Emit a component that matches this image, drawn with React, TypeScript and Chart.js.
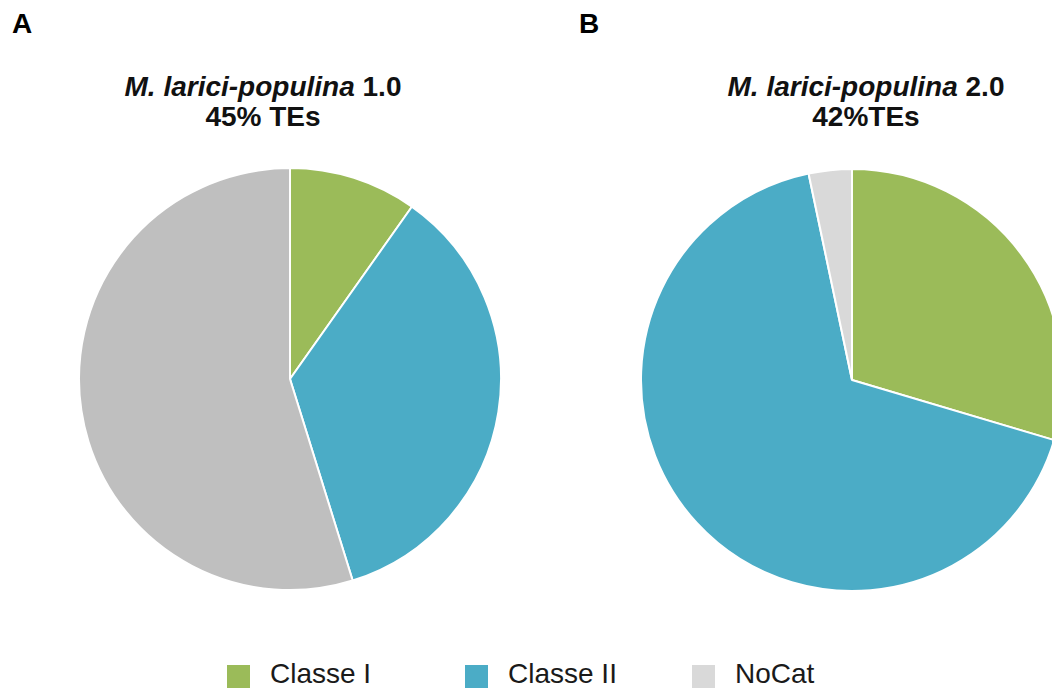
import React, { useEffect, useRef } from "react";
import { Chart, registerables } from "chart.js";

Chart.register(...registerables);

// ---- data ----
const categories = ["Classe I", "Classe II", "NoCat"];
const valuesA = [9.8, 35.4, 54.8];
const valuesB = [29.6, 67.1, 3.3];
const colorsA = ["#9BBB59", "#4BACC6", "#BFBFBF"];
const colorsB = ["#9BBB59", "#4BACC6", "#D9D9D9"];
const legendColors = ["#9BBB59", "#4BACC6", "#D9D9D9"];
const panelLabels = ["A", "B"];
const speciesNames = ["M. larici-populina", "M. larici-populina"];
const versions = ["1.0", "2.0"];
const teLabels = ["45% TEs", "42%TEs"];

// ---- layout ----
const FONT = '"Liberation Sans", Arial, Helvetica, sans-serif';
const PIE_SIZE = 424;
const pieBoxes = [
  { left: 78, top: 167 },
  { left: 640, top: 168 },
];
const panelLabelX = [12, 579];
const titleCenters = [263, 866];
const legendSquareX = [227, 465, 692];

function Pie({ values, colors, left, top }: { values: number[]; colors: string[]; left: number; top: number }) {
  const ref = useRef<HTMLCanvasElement | null>(null);
  useEffect(() => {
    if (!ref.current) return;
    const chart = new Chart(ref.current, {
      type: "pie",
      data: {
        labels: categories,
        datasets: [
          {
            data: values,
            backgroundColor: colors,
            borderColor: "#ffffff",
            borderWidth: 2,
          },
        ],
      },
      options: {
        animation: false,
        responsive: false,
        maintainAspectRatio: false,
        devicePixelRatio: 1,
        layout: { padding: 0 },
        plugins: {
          legend: { display: false },
          tooltip: { enabled: false },
          title: { display: false },
        },
      },
    });
    return () => chart.destroy();
  }, [values, colors]);
  return (
    <canvas
      ref={ref}
      width={PIE_SIZE}
      height={PIE_SIZE}
      style={{ position: "absolute", left, top, width: PIE_SIZE, height: PIE_SIZE }}
    />
  );
}

export default function App() {
  const datasets = [
    { values: valuesA, colors: colorsA },
    { values: valuesB, colors: colorsB },
  ];
  return (
    <div
      style={{
        position: "fixed",
        left: 0,
        top: 0,
        width: 1052,
        height: 688,
        overflow: "hidden",
        background: "#ffffff",
        fontFamily: FONT,
        color: "#000",
      }}
    >
      {datasets.map((d, i) => (
        <Pie key={"pie" + i} values={d.values} colors={d.colors} left={pieBoxes[i].left} top={pieBoxes[i].top} />
      ))}
      {panelLabels.map((p, i) => (
        <div
          key={"pl" + i}
          style={{
            position: "absolute",
            left: panelLabelX[i],
            top: 10,
            fontSize: 28,
            lineHeight: "28px",
            fontWeight: "bold",
          }}
        >
          {p}
        </div>
      ))}
      {speciesNames.map((s, i) => (
        <div
          key={"t" + i}
          style={{
            position: "absolute",
            left: titleCenters[i] - 200,
            width: 400,
            top: 72,
            textAlign: "center",
            fontSize: 28,
            lineHeight: "30px",
            fontWeight: "bold",
            color: "#111",
          }}
        >
          <div>
            <i>{s}</i> {versions[i]}
          </div>
          <div>{teLabels[i]}</div>
        </div>
      ))}
      {categories.map((c, i) => (
        <React.Fragment key={"lg" + i}>
          <div
            style={{
              position: "absolute",
              left: legendSquareX[i],
              top: 665,
              width: 23,
              height: 23,
              background: legendColors[i],
            }}
          />
          <div
            style={{
              position: "absolute",
              left: legendSquareX[i] + 43,
              top: 660,
              fontSize: 28,
              lineHeight: "28px",
              color: "#1a1a1a",
              whiteSpace: "nowrap",
            }}
          >
            {c}
          </div>
        </React.Fragment>
      ))}
    </div>
  );
}
